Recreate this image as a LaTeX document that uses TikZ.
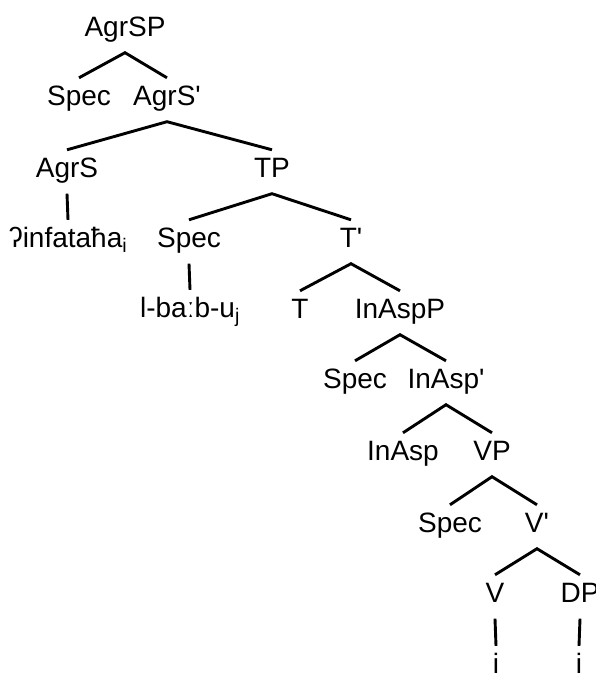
\documentclass[tikz,border=0pt]{standalone}
\usepackage{fontspec}
\setmainfont{Liberation Sans}
% straight apostrophe, loaded without the TeX quote mapping
\font\aposfont="Liberation Sans" at 28pt
\newcommand{\ap}{{\aposfont'}}
\begin{document}
\begin{tikzpicture}[x=1pt, y=-1pt,
  lab/.style={anchor=base, inner sep=0pt, text height=27pt, text depth=16.5pt,
    font=\fontsize{28}{33}\selectfont},
  branch/.style={line width=2.9pt, line cap=butt}]
\useasboundingbox (0,0) rectangle (596,675);
% tree labels, placed by baseline
\node[lab] (agrsp)    at (125,36)  {AgrSP};
\node[lab] (spec1)    at (79,105)  {Spec};
\node[lab] (agrsbar)  at (167,105) {AgrS\ap};
\node[lab] (agrs)     at (67,177)  {AgrS};
\node[lab] (tp)       at (272,177) {TP};
\node[lab] (subj)     at (68,247)  {ʔinfataħa\textsubscript{i}};
\node[lab] (spec2)    at (189,247) {Spec};
\node[lab] (tbar)     at (351,247) {T\ap};
\node[lab] (lbabu)    at (190,317) {l-baːb-u\textsubscript{j}};
\node[lab] (t)        at (300,318) {T};
\node[lab] (inaspp)   at (400,318) {InAspP};
\node[lab] (spec3)    at (355,388) {Spec};
\node[lab] (inaspbar) at (446,388) {InAsp\ap};
\node[lab] (inasp)    at (403,460) {InAsp};
\node[lab] (vp)       at (492,460) {VP};
\node[lab] (spec4)    at (450,532) {Spec};
\node[lab] (vbar)     at (537,532) {V\ap};
\node[lab] (v)        at (495,602) {V};
\node[lab] (dp)       at (580,602) {DP};
\node[lab] (iv)       at (496,673) {i};
\node[lab] (idp)      at (579,673) {i};
% branches
\draw[branch] (spec1.north) -- (agrsp.south) -- (agrsbar.north);
\draw[branch] (agrs.north) -- (agrsbar.south) -- (tp.north);
\draw[branch] (agrs.south) -- (subj.north);
\draw[branch] (spec2.north) -- (tp.south) -- (tbar.north);
\draw[branch] (spec2.south) -- (lbabu.north);
\draw[branch] (t.north) -- (tbar.south) -- (inaspp.north);
\draw[branch] (spec3.north) -- (inaspp.south) -- (inaspbar.north);
\draw[branch] (inasp.north) -- (inaspbar.south) -- (vp.north);
\draw[branch] (spec4.north) -- (vp.south) -- (vbar.north);
\draw[branch] (v.north) -- (vbar.south) -- (dp.north);
\draw[branch] (v.south) -- (iv.north);
\draw[branch] (dp.south) -- (idp.north);
\end{tikzpicture}
\end{document}
